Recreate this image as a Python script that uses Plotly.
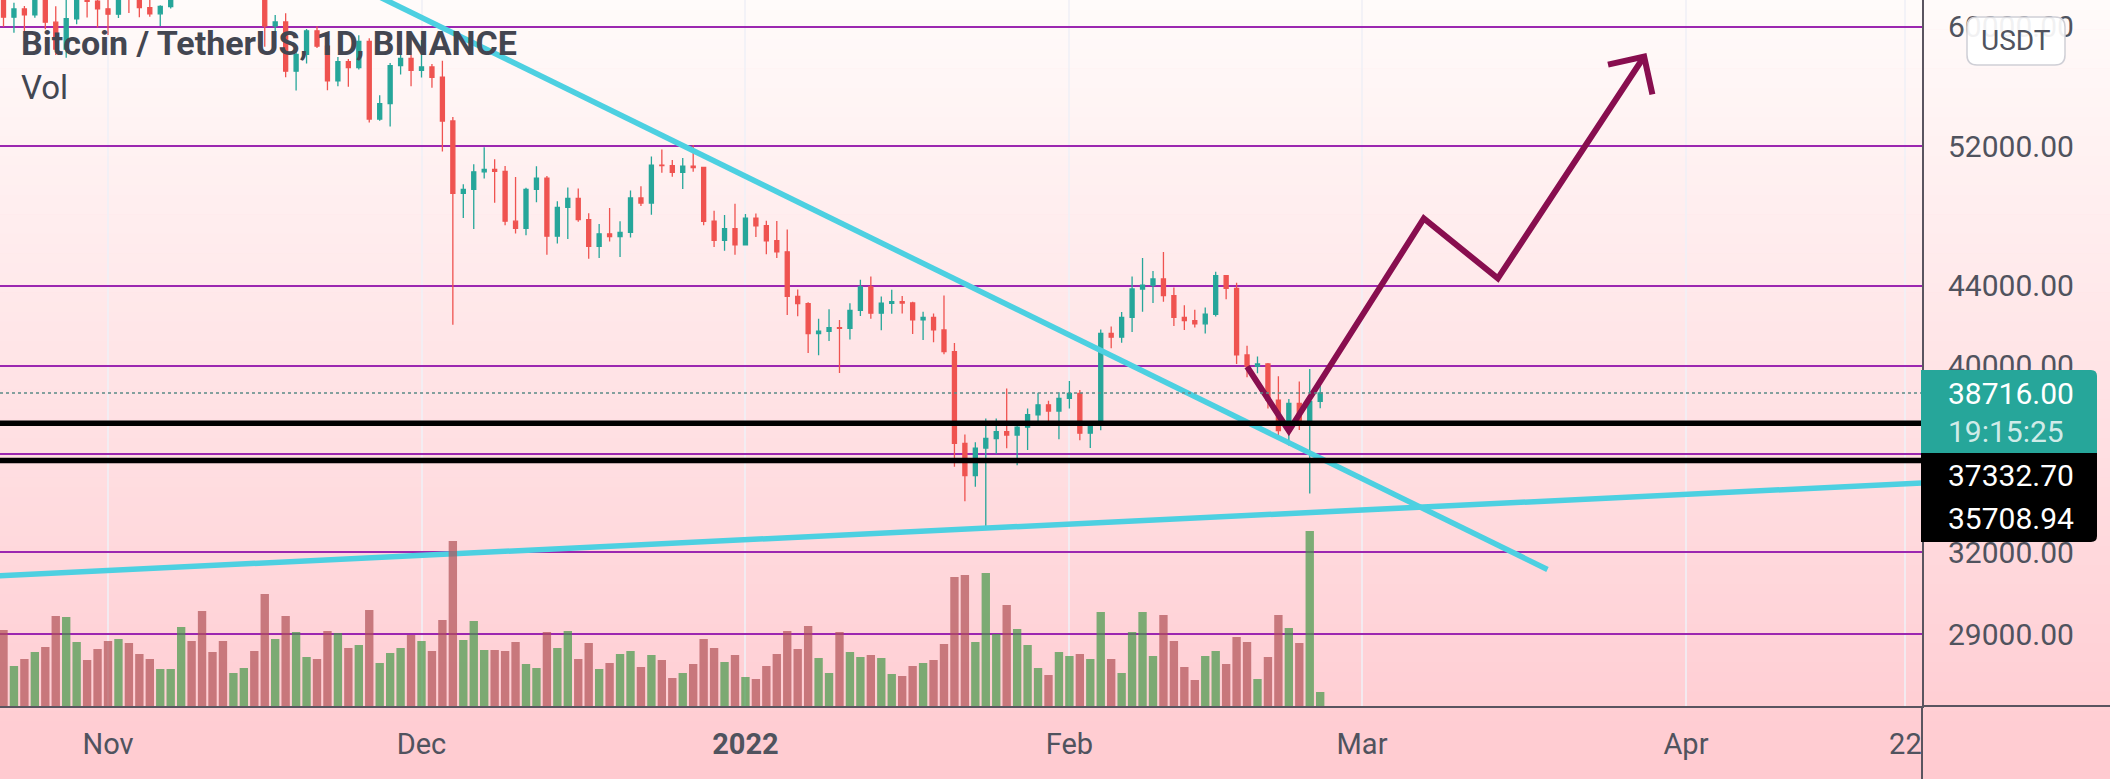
import math
import pandas as pd
import plotly.graph_objects as go

# ---------------- data ----------------
dates = pd.date_range("2021-10-22", "2022-02-25", freq="D")

open_ = [62193, 60688, 61286, 60852, 63078, 60328, 58413, 60575, 62253, 61859,
         61299, 60911, 63219, 62896, 61395, 60937, 61470, 63273, 67525, 66947,
         64882, 64774, 64122, 64380, 65519, 63606, 60058, 60345, 56892, 58052,
         59707, 58622, 56247, 57541, 57138, 58960, 53726, 54721, 57274, 57776,
         56950, 57184, 56480, 53601, 49152, 49396, 50441, 50588, 50471, 47545,
         47140, 49389, 50053, 46702, 48343, 48864, 47632, 46131, 46834, 46681,
         46914, 48889, 48588, 50838, 50820, 50400, 50775, 50701, 47543, 46464,
         47120, 46216, 47722, 47286, 46446, 45833, 43451, 43082, 41566, 41680,
         41864, 41822, 42736, 43949, 42591, 43099, 43177, 43113, 42250, 42375,
         41744, 40680, 36445, 35071, 36244, 36660, 36958, 36809, 37160, 37716,
         38166, 37881, 38466, 38694, 36896, 37311, 41574, 41383, 42380, 43840,
         44043, 44373, 43495, 42373, 42217, 42053, 42535, 44544, 43873, 40515,
         39974, 40079, 38386, 37008, 38230, 37250, 38328]
high = [63732, 61747, 61500, 63710, 63293, 61496, 62499, 62980, 62359, 62405,
        62437, 64270, 63516, 63086, 62595, 61560, 63286, 67789, 68524, 69000,
        65600, 65450, 64990, 65550, 66401, 63617, 60840, 60977, 58320, 59846,
        60029, 59444, 57875, 57735, 59398, 59183, 55280, 57445, 58865, 59176,
        59053, 57376, 57600, 53859, 49699, 50891, 51936, 51200, 50797, 50125,
        49485, 50777, 50189, 48700, 49500, 49436, 47995, 47392, 48300, 47537,
        49328, 49576, 51375, 51810, 51156, 51280, 52088, 50704, 48139, 47900,
        48548, 47954, 47990, 47570, 47557, 47070, 43817, 43145, 42305, 42787,
        42249, 43100, 44322, 44500, 43448, 43800, 43476, 43175, 42664, 42579,
        43505, 41100, 36835, 36499, 37550, 37545, 38919, 37234, 38000, 38720,
        38359, 38744, 39265, 38855, 37387, 41772, 41913, 42656, 44500, 45492,
        44799, 45821, 43921, 43000, 42760, 42876, 44751, 44549, 44164, 40959,
        40444, 40125, 39494, 38429, 39249, 39843, 39100]
low = [60000, 59562, 59510, 60650, 59817, 58000, 57820, 60174, 60673, 59945,
       59405, 60624, 61000, 60677, 60721, 60050, 61322, 63273, 66222, 62822,
       64100, 62278, 63410, 63576, 63400, 58574, 58373, 56474, 55600, 57413,
       58486, 55610, 55875, 55837, 57000, 53500, 53610, 53256, 56666, 55875,
       56458, 55777, 51680, 42000, 47727, 47100, 50039, 48600, 47320, 46852,
       46751, 48638, 45672, 46290, 46547, 47511, 45456, 45500, 46406, 45558,
       46630, 48421, 47920, 50384, 50142, 49412, 50449, 47313, 46096, 45900,
       45678, 46208, 46654, 45696, 45502, 42500, 42431, 40611, 40501, 41200,
       39650, 41268, 42450, 42311, 41725, 42555, 42578, 41541, 41250, 41138,
       40553, 35440, 34008, 34601, 32917, 36000, 36234, 35507, 36155, 37268,
       37351, 36632, 38000, 36586, 36250, 37026, 40843, 41116, 41645, 42666,
       43117, 43174, 41938, 41748, 41870, 41570, 42427, 43307, 40073, 39450,
       39639, 38000, 36800, 36350, 37036, 34322, 38014]
close = [60688, 61286, 60852, 63078, 60328, 58413, 60575, 62253, 61859, 61299,
         60911, 63219, 62896, 61395, 60937, 61470, 63273, 67525, 66947, 64882,
         64774, 64122, 64380, 65519, 63606, 60058, 60345, 56892, 58052, 59707,
         58622, 56247, 57541, 57138, 58960, 53726, 54721, 57274, 57776, 56950,
         57184, 56480, 53601, 49152, 49396, 50441, 50588, 50471, 47545, 47140,
         49389, 50053, 46702, 48343, 48864, 47632, 46131, 46834, 46681, 46914,
         48889, 48588, 50838, 50820, 50400, 50775, 50701, 47543, 46464, 47120,
         46216, 47722, 47286, 46446, 45833, 43451, 43082, 41566, 41680, 41864,
         41822, 42736, 43949, 42591, 43099, 43177, 43113, 42250, 42375, 41744,
         40680, 36445, 35071, 36244, 36660, 36958, 36809, 37160, 37716, 38166,
         37881, 38466, 38694, 36896, 37311, 41574, 41383, 42380, 43840, 44043,
         44373, 43495, 42373, 42217, 42053, 42535, 44544, 43873, 40515, 39974,
         40079, 38386, 37008, 38230, 37250, 38328, 38716]
# relative volume (height units of the volume overlay)
volume = [76, 40, 47, 54, 59, 90, 89, 64, 46, 57,
          65, 67, 63, 52, 47, 37, 37, 79, 65, 95,
          54, 65, 33, 38, 55, 112, 67, 90, 74, 49,
          47, 75, 73, 58, 61, 96, 43, 53, 58, 71,
          65, 55, 86, 165, 66, 85, 56, 56, 55, 64,
          42, 38, 74, 58, 75, 47, 63, 37, 43, 52,
          55, 39, 51, 46, 28, 33, 42, 67, 58, 44,
          51, 29, 27, 40, 52, 75, 57, 80, 48, 33,
          74, 54, 49, 51, 48, 32, 30, 40, 43, 46,
          62, 129, 131, 64, 133, 72, 101, 77, 61, 38,
          31, 54, 50, 52, 47, 94, 47, 33, 74, 94,
          50, 91, 65, 39, 26, 50, 55, 42, 69, 64,
          27, 49, 91, 78, 63, 175, 14]

price_ticks = [29000, 32000, 36000, 40000, 44000, 52000, 60000]
price_tick_text = ["29000.00", "32000.00", "", "40000.00", "44000.00", "52000.00", "60000.00"]
time_tick_dates = ["2021-11-01", "2021-12-01", "2022-01-01", "2022-02-01",
                   "2022-03-01", "2022-04-01", "2022-04-22"]
time_tick_text = ["Nov", "Dec", "<b>2022</b>", "Feb", "Mar", "Apr", "22"]

last_price = 38716.00
countdown = "19:15:25"
level_hi = 37332.70
level_lo = 35708.94

# drawings (anchored in date / price)
desc_line_x = ["2021-11-10", "2022-03-18 18:00"]
desc_line_y = [69000, 31343]
asc_line_x = ["2021-10-20", "2022-04-25"]
asc_line_y = [31080, 34790]
path_x = ["2022-02-18", "2022-02-22", "2022-03-06 22:00", "2022-03-14", "2022-03-28"]
path_y = [39950, 37000, 47700, 44400, 57900]
head_x = ["2022-03-24 13:00", "2022-03-28", "2022-03-28 19:00"]
head_y = [57340, 57900, 55340]

# ---------------- layout geometry ----------------
W, H = 2110, 779
PLOT_W, PLOT_H = 1922, 706
Y_TOP, Y_BOT = 61951, 26619
base = pd.Timestamp("2021-11-01")
x_start = base - pd.Timedelta(days=10.335)
x_end = base + pd.Timedelta(days=173.59)


def px(x):
    return x / W


def py(y):
    return (PLOT_H - y) / PLOT_H


FONT = "Roboto"
TXT = "#50535e"
UP, DOWN = "#26a69a", "#ef5350"

fig = go.Figure()

# volume
vcol = ["rgba(69,152,72,0.7)" if c >= o else "rgba(176,81,86,0.7)" for o, c in zip(open_, close)]
fig.add_trace(go.Bar(x=dates, y=volume, marker=dict(color=vcol, line=dict(width=0)),
                     yaxis="y2", hoverinfo="skip", showlegend=False))

# candles
fig.add_trace(go.Candlestick(
    x=dates, open=open_, high=high, low=low, close=close,
    increasing=dict(line=dict(color=UP, width=1.3), fillcolor=UP),
    decreasing=dict(line=dict(color=DOWN, width=1.3), fillcolor=DOWN),
    whiskerwidth=0, hoverinfo="skip", showlegend=False))

# trend lines
CYAN = "#4dd0e1"
fig.add_trace(go.Scatter(x=desc_line_x, y=desc_line_y, mode="lines",
                         line=dict(color=CYAN, width=5.5), hoverinfo="skip", showlegend=False))
fig.add_trace(go.Scatter(x=asc_line_x, y=asc_line_y, mode="lines",
                         line=dict(color=CYAN, width=5.5), hoverinfo="skip", showlegend=False))
MAROON = "#880e4f"
fig.add_trace(go.Scatter(x=path_x, y=path_y, mode="lines",
                         line=dict(color=MAROON, width=6), hoverinfo="skip", showlegend=False))
fig.add_trace(go.Scatter(x=head_x, y=head_y, mode="lines",
                         line=dict(color=MAROON, width=6), hoverinfo="skip", showlegend=False))

shapes = []
# background gradient
top_c = (255, 251, 250)
bot_c = (255, 202, 208)
n = 80
for i in range(n):
    y0 = H * i / n
    y1 = H * (i + 1) / n + 0.6
    t = (i + 0.5) / n
    col = tuple(round(a + (b - a) * t) for a, b in zip(top_c, bot_c))
    shapes.append(dict(type="rect", xref="paper", yref="paper", x0=0, x1=1,
                       y0=py(y1), y1=py(y0), line=dict(width=0),
                       fillcolor="rgb(%d,%d,%d)" % col, layer="below"))

# horizontal levels
for lv in (level_hi, level_lo):
    shapes.append(dict(type="line", xref="x domain", yref="y", x0=0, x1=1, y0=lv, y1=lv,
                       line=dict(color="#000000", width=5.5), layer="above"))
shapes.append(dict(type="line", xref="x domain", yref="y", x0=0, x1=1, y0=last_price, y1=last_price,
                   line=dict(color="#5b8a86", width=1.5, dash="dot"), layer="above"))

# axis border extensions
shapes.append(dict(type="line", xref="paper", yref="paper", x0=px(PLOT_W), x1=1, y0=0, y1=0,
                   line=dict(color="#5a5560", width=2)))
shapes.append(dict(type="line", xref="paper", yref="paper", x0=px(PLOT_W), x1=px(PLOT_W),
                   y0=py(PLOT_H), y1=py(H), line=dict(color="#5a5560", width=2)))


def rrect(x0, y0, x1, y1, r, tl=0, tr=0, br=0, bl=0):
    rtl, rtr, rbr, rbl = r * tl, r * tr, r * br, r * bl
    s = "M%.6f,%.6f " % (px(x0 + rtl), py(y0))
    s += "L%.6f,%.6f " % (px(x1 - rtr), py(y0))
    if rtr:
        s += "Q%.6f,%.6f %.6f,%.6f " % (px(x1), py(y0), px(x1), py(y0 + rtr))
    s += "L%.6f,%.6f " % (px(x1), py(y1 - rbr))
    if rbr:
        s += "Q%.6f,%.6f %.6f,%.6f " % (px(x1), py(y1), px(x1 - rbr), py(y1))
    s += "L%.6f,%.6f " % (px(x0 + rbl), py(y1))
    if rbl:
        s += "Q%.6f,%.6f %.6f,%.6f " % (px(x0), py(y1), px(x0), py(y1 - rbl))
    s += "L%.6f,%.6f " % (px(x0), py(y0 + rtl))
    if rtl:
        s += "Q%.6f,%.6f %.6f,%.6f " % (px(x0), py(y0), px(x0 + rtl), py(y0))
    s += "Z"
    return s


# price labels on the axis
shapes.append(dict(type="path", xref="paper", yref="paper",
                   path=rrect(1921, 370, 2097, 454, 6, tr=1), fillcolor=UP,
                   line=dict(width=0), layer="above"))
shapes.append(dict(type="path", xref="paper", yref="paper",
                   path=rrect(1921, 453, 2097, 542, 6, br=1), fillcolor="#000000",
                   line=dict(width=0), layer="above"))
# USDT button
shapes.append(dict(type="path", xref="paper", yref="paper",
                   path=rrect(1967, 17, 2065, 65, 10, 1, 1, 1, 1),
                   fillcolor="rgba(255,255,255,0.92)",
                   line=dict(color="#cfcfd6", width=1.5), layer="above"))

annotations = [
    dict(text="<b>Bitcoin / TetherUS, 1D, BINANCE</b>", x=px(19), y=py(43), xref="paper", yref="paper",
         xanchor="left", yanchor="middle", showarrow=False,
         font=dict(family=FONT, size=34, color="#434651")),
    dict(text="Vol", x=px(19), y=py(88), xref="paper", yref="paper",
         xanchor="left", yanchor="middle", showarrow=False,
         font=dict(family=FONT, size=33, color="#434651")),
    dict(text="USDT", x=px(2016), y=py(41), xref="paper", yref="paper",
         xanchor="center", yanchor="middle", showarrow=False,
         font=dict(family=FONT, size=28, color=TXT)),
    dict(text="%.2f" % last_price, x=px(1946), y=py(393), xref="paper", yref="paper",
         xanchor="left", yanchor="middle", showarrow=False,
         font=dict(family=FONT, size=30, color="#ffffff")),
    dict(text=countdown, x=px(1946), y=py(431), xref="paper", yref="paper",
         xanchor="left", yanchor="middle", showarrow=False,
         font=dict(family=FONT, size=30, color="rgba(255,255,255,0.8)")),
    dict(text="%.2f" % level_hi, x=px(1946), y=py(475), xref="paper", yref="paper",
         xanchor="left", yanchor="middle", showarrow=False,
         font=dict(family=FONT, size=30, color="#ffffff")),
    dict(text="%.2f" % level_lo, x=px(1946), y=py(518), xref="paper", yref="paper",
         xanchor="left", yanchor="middle", showarrow=False,
         font=dict(family=FONT, size=30, color="#ffffff")),
]

fig.update_layout(
    width=W, height=H, autosize=False,
    margin=dict(l=0, r=0, t=0, b=H - PLOT_H, pad=0),
    paper_bgcolor="rgb(255,214,218)", plot_bgcolor="rgba(0,0,0,0)",
    showlegend=False, bargap=0.2, boxgap=0.45,
    shapes=shapes, annotations=annotations,
    hovermode=False,
    xaxis=dict(type="date", domain=[0, PLOT_W / W],
               range=[x_start.isoformat(), x_end.isoformat()],
               tickvals=time_tick_dates, ticktext=time_tick_text,
               tickfont=dict(family=FONT, size=29, color=TXT),
               showgrid=True, gridcolor="rgba(240,240,246,0.8)", gridwidth=2,
               showline=True, linecolor="#5a5560", linewidth=2,
               ticks="", ticklabelstandoff=11, zeroline=False,
               rangeslider=dict(visible=False), fixedrange=True),
    yaxis=dict(type="log", side="right", anchor="x",
               range=[math.log10(Y_BOT), math.log10(Y_TOP)],
               tickvals=price_ticks, ticktext=price_tick_text,
               tickfont=dict(family=FONT, size=30, color=TXT),
               showgrid=True, gridcolor="#9c27b0", gridwidth=2,
               showline=True, linecolor="#5a5560", linewidth=2,
               ticks="", ticklabelstandoff=18, zeroline=False, fixedrange=True),
    yaxis2=dict(overlaying="y", range=[0, PLOT_H], visible=False, fixedrange=True),
)

fig.write_html("out.html", config={"displayModeBar": False},
               post_script="document.body.style.margin='0';document.body.style.overflow='hidden';")
